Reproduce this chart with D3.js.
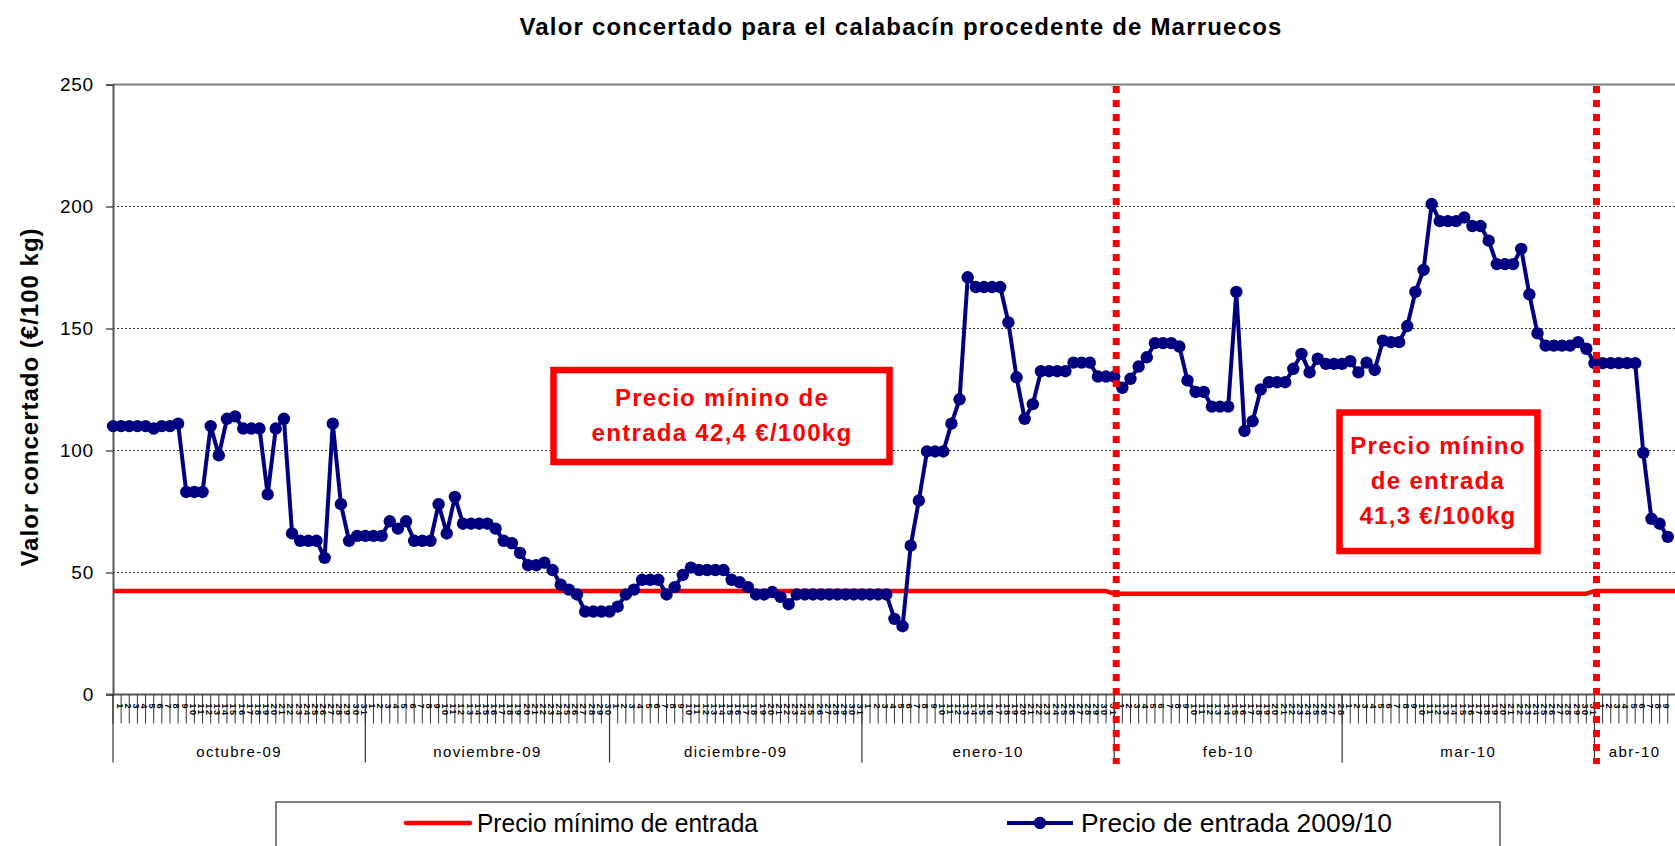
<!DOCTYPE html>
<html>
<head>
<meta charset="utf-8">
<script src="https://cdn.jsdelivr.net/npm/d3@7"></script>
<style>
  html, body { margin: 0; padding: 0; background: #fff; }
  svg { display: block; font-family: "Liberation Sans", Arial, sans-serif; }
</style>
</head>
<body>
<div id="chart"></div>
<script>
// daily series, first value is 1 Oct 2009
const START_DATE = '2009-10-01';
const END_DATE = '2010-05-01';
const PRICE = [
  110, 110, 110, 110, 110, 109, 110, 110, 111, 83, 83, 83, 110, 98, 113, 114,
  109, 109, 109, 82, 109, 113, 66, 63, 63, 63, 56, 111, 78, 63, 65,
  65, 65, 65, 71, 68, 71, 63, 63, 63, 78, 66, 81, 70, 70, 70,
  70, 68, 63, 62, 58, 53, 53, 54, 51, 45, 43, 41, 34, 34, 34,
  34, 36, 41, 43, 47, 47, 47, 41, 44, 49, 52, 51, 51, 51, 51, 47,
  46, 44, 41, 41, 42, 40, 37, 41, 41, 41, 41, 41, 41, 41, 41,
  41, 41, 41, 41, 31, 28, 61, 79.5, 99.6, 99.6, 99.6, 111, 121, 171, 167, 167,
  167, 167, 152.5, 130, 113, 119, 132.5, 132.5, 132.5, 132.5, 136, 136, 136, 130.3, 130.3,
  130.3, 125.7, 129.4, 134.4, 138.2, 144, 144, 144, 142.6, 128.7, 124, 124, 118, 118,
  118, 165, 108, 112, 125, 128, 128, 128, 133.5, 139.6, 132, 137.6, 135.5, 135.5,
  135.5, 136.6, 132, 136, 133, 145, 144.4, 144.4, 151, 165, 174, 201, 194, 194, 194,
  195.5, 192, 192, 186, 176.4, 176.4, 176.4, 182.6, 164, 148, 143, 143, 143, 143, 144.4, 141.7,
  135.8, 135.8, 135.8, 135.8, 135.8, 135.8, 99, 72, 70, 64.6
];

// minimum entry price (step between periods)
const MIN_DATES = ['2009-10-01', '2010-01-31', '2010-02-01', '2010-03-31', '2010-04-01', '2010-04-30'];
const MIN_VALUES = [42.4, 42.4, 41.3, 41.3, 42.4, 42.4];

const CHANGE_DATES = ['2010-02-01', '2010-04-01'];
const Y_TICKS = [0, 50, 100, 150, 200, 250];
const MONTH_LABELS = ['octubre-09', 'noviembre-09', 'diciembre-09', 'enero-10', 'feb-10', 'mar-10', 'abr-10'];

const NOTE_1 = ['Precio mínino de', 'entrada 42,4 €/100kg'];
const NOTE_2 = ['Precio mínino', 'de entrada', '41,3 €/100kg'];

const TITLE = 'Valor concertado para el calabacín procedente de Marruecos';
const Y_TITLE = 'Valor concertado (€/100 kg)';
const LEGEND = ['Precio mínimo de entrada', 'Precio de entrada 2009/10'];

(function () {
  'use strict';

  const W = 1675, H = 846;
  const RED = '#ff0000', NAVY = '#000080';
  const parse = d3.utcParse('%Y-%m-%d');
  const t0 = parse(START_DATE), t1 = parse(END_DATE);

  const left = 113, dayW = 8.14;
  const nDays = d3.utcDay.count(t0, t1);

  const x = d3.scaleUtc().domain([t0, t1]).range([left, left + nDays * dayW]);
  const y = d3.scaleLinear().domain([0, 250]).range([694.5, 84.5]);

  const svg = d3.select('#chart').append('svg')
    .attr('width', W).attr('height', H)
    .attr('viewBox', `0 0 ${W} ${H}`);

  // title
  svg.append('text')
    .attr('x', 901).attr('y', 35)
    .attr('text-anchor', 'middle')
    .attr('font-size', 24).attr('font-weight', 'bold')
    .attr('letter-spacing', 1.2)
    .text(TITLE);

  // y axis title
  svg.append('text')
    .attr('transform', 'translate(38,397) rotate(-90)')
    .attr('text-anchor', 'middle')
    .attr('font-size', 24).attr('font-weight', 'bold')
    .attr('letter-spacing', 1)
    .text(Y_TITLE);

  // gridlines
  svg.append('g').selectAll('line')
    .data(Y_TICKS.filter(d => d > 0 && d < 250))
    .join('line')
    .attr('x1', left).attr('x2', W)
    .attr('y1', d => y(d)).attr('y2', d => y(d))
    .attr('stroke', '#333').attr('stroke-width', 1)
    .attr('stroke-dasharray', '2,2');

  // top frame
  svg.append('line')
    .attr('x1', left).attr('x2', W)
    .attr('y1', y(250)).attr('y2', y(250))
    .attr('stroke', '#808080').attr('stroke-width', 2);

  // y axis
  const yAxis = svg.append('g').attr('transform', `translate(${left},0)`)
    .call(d3.axisLeft(y).tickValues(Y_TICKS).tickSize(7).tickPadding(12));
  yAxis.select('.domain').attr('stroke', '#555').attr('stroke-width', 2);
  yAxis.selectAll('.tick line').attr('stroke', '#555').attr('stroke-width', 1.5);
  yAxis.selectAll('.tick text')
    .attr('font-size', 19).attr('letter-spacing', 0.8)
    .attr('font-family', '"Liberation Sans", Arial, sans-serif')
    .attr('fill', '#000');

  // x axis: daily ticks + day numbers
  const days = d3.utcDay.range(t0, t1);
  const xg = svg.append('g');
  xg.append('line')
    .attr('x1', left - 7).attr('x2', W)
    .attr('y1', y(0)).attr('y2', y(0))
    .attr('stroke', '#555').attr('stroke-width', 2);
  xg.selectAll('line.day')
    .data(days)
    .join('line').attr('class', 'day')
    .attr('x1', d => x(d)).attr('x2', d => x(d))
    .attr('y1', y(0)).attr('y2', y(0) + 29)
    .attr('stroke', '#333').attr('stroke-width', 1);
  xg.selectAll('text.day')
    .data(days.filter(d => x(d) < W - 10))
    .join('text').attr('class', 'day')
    .attr('transform', d => `translate(${x(d) + 3.5},${y(0) + 9}) rotate(90)`)
    .attr('font-size', 9).attr('font-weight', 'bold')
    .attr('letter-spacing', 1.5)
    .text(d => d3.utcFormat('%-d')(d));

  // month boundaries and labels (last band is cut by the chart edge)
  const months = d3.utcMonth.range(t0, t1);
  xg.selectAll('line.month')
    .data(months)
    .join('line').attr('class', 'month')
    .attr('x1', d => x(d)).attr('x2', d => x(d))
    .attr('y1', y(0)).attr('y2', y(0) + 68)
    .attr('stroke', '#333').attr('stroke-width', 1.2);
  xg.selectAll('text.month')
    .data(months)
    .join('text').attr('class', 'month')
    .attr('x', d => (x(d) + Math.min(x(d3.utcMonth.offset(d, 1)), W)) / 2)
    .attr('y', y(0) + 62)
    .attr('text-anchor', 'middle')
    .attr('font-size', 15).attr('letter-spacing', 1.4)
    .text((d, i) => MONTH_LABELS[i]);

  // min price line
  const minData = MIN_DATES.map((d, i) => ({ date: parse(d), v: MIN_VALUES[i] }));
  const line = d3.line().x(d => x(d.date)).y(d => y(d.v));
  svg.append('path')
    .datum(minData)
    .attr('d', line)
    .attr('fill', 'none').attr('stroke', RED)
    .attr('stroke-width', 4.5).attr('stroke-linejoin', 'round');

  // price series
  const priceData = PRICE.map((v, i) => ({ date: d3.utcDay.offset(t0, i), v }));
  svg.append('path')
    .datum(priceData)
    .attr('d', line)
    .attr('fill', 'none').attr('stroke', NAVY)
    .attr('stroke-width', 4).attr('stroke-linejoin', 'round');
  svg.append('g').selectAll('circle')
    .data(priceData)
    .join('circle')
    .attr('cx', d => x(d.date)).attr('cy', d => y(d.v))
    .attr('r', 6.2).attr('fill', NAVY);

  // vertical dotted lines at price changes
  svg.append('g').selectAll('line')
    .data(CHANGE_DATES.map(parse))
    .join('line')
    .attr('x1', d => x(d) + 2).attr('x2', d => x(d) + 2)
    .attr('y1', 86).attr('y2', 764)
    .attr('stroke', RED).attr('stroke-width', 7)
    .attr('stroke-dasharray', '7,7');

  // annotation boxes
  function note(lines, bx, by, bw, bh, cx, firstBase) {
    const g = svg.append('g');
    g.append('rect')
      .attr('x', bx).attr('y', by).attr('width', bw).attr('height', bh)
      .attr('fill', '#fff').attr('stroke', RED).attr('stroke-width', 6.5);
    g.selectAll('text').data(lines).join('text')
      .attr('x', cx).attr('y', (d, i) => firstBase + i * 35)
      .attr('text-anchor', 'middle')
      .attr('font-size', 24).attr('font-weight', 'bold')
      .attr('letter-spacing', 1.3)
      .attr('fill', RED)
      .text(d => d);
  }
  note(NOTE_1, 553.5, 370, 336, 92, 722, 406);
  note(NOTE_2, 1339.5, 412.5, 198, 138.5, 1438, 454);

  // legend
  const lg = svg.append('g');
  lg.append('rect')
    .attr('x', 276).attr('y', 802).attr('width', 1224).attr('height', 80)
    .attr('fill', '#fff').attr('stroke', '#555').attr('stroke-width', 1.5);
  lg.append('line')
    .attr('x1', 406).attr('x2', 470).attr('y1', 823).attr('y2', 823)
    .attr('stroke', RED).attr('stroke-width', 4.5).attr('stroke-linecap', 'round');
  lg.append('line')
    .attr('x1', 1007).attr('x2', 1073).attr('y1', 823).attr('y2', 823)
    .attr('stroke', NAVY).attr('stroke-width', 4);
  lg.append('circle')
    .attr('cx', 1040).attr('cy', 823).attr('r', 6.2).attr('fill', NAVY);
  lg.selectAll('text').data(LEGEND).join('text')
    .attr('x', (d, i) => i === 0 ? 477 : 1081)
    .attr('y', 832)
    .attr('font-size', 26)
    .attr('textLength', (d, i) => i === 0 ? 281 : 311)
    .attr('lengthAdjust', 'spacingAndGlyphs')
    .text(d => d);
})();
</script>
</body>
</html>
